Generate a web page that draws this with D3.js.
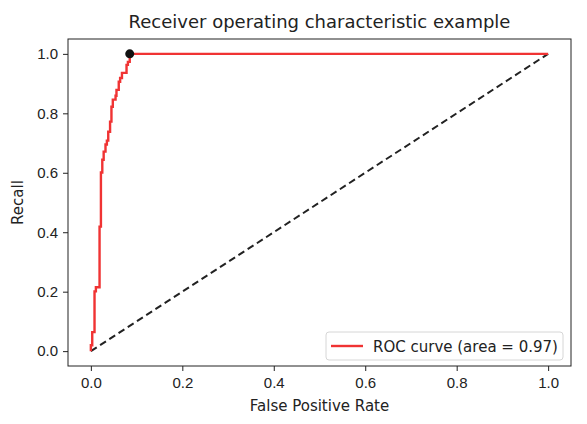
<!DOCTYPE html>
<html>
<head>
<meta charset="utf-8">
<script src="https://cdn.jsdelivr.net/npm/d3@7"></script>
<style>
  body { margin: 0; background: #fff; }
  svg { display: block; font-family: "DejaVu Sans", sans-serif; }
</style>
</head>
<body>
<svg id="chart" width="587" height="424"></svg>
<script>
// ROC curve points
const fpr = [0, 0, 0.003, 0.003, 0.008, 0.008, 0.011, 0.011, 0.019, 0.019, 0.022, 0.022,
  0.025, 0.025, 0.028, 0.028, 0.032, 0.032, 0.035, 0.035, 0.038, 0.038, 0.042, 0.042,
  0.045, 0.045, 0.048, 0.048, 0.054, 0.054, 0.056, 0.056, 0.061, 0.061, 0.064, 0.064,
  0.068, 0.068, 0.078, 0.078, 0.081, 0.081, 0.085, 0.085, 1];
const tpr = [0, 0.02, 0.02, 0.064, 0.064, 0.201, 0.201, 0.215, 0.215, 0.419, 0.419, 0.601,
  0.601, 0.644, 0.644, 0.671, 0.671, 0.695, 0.695, 0.708, 0.708, 0.738, 0.738, 0.772,
  0.772, 0.822, 0.822, 0.846, 0.846, 0.859, 0.859, 0.879, 0.879, 0.906, 0.906, 0.919,
  0.919, 0.936, 0.936, 0.963, 0.963, 0.973, 0.973, 1, 1];
const chance = [[0, 0], [1, 1]];
const bestPoint = [0.085, 1];
const ticks = [0, 0.2, 0.4, 0.6, 0.8, 1.0];
const rocArea = 0.97;

const svg = d3.select('#chart');
const margin = {top: 39, right: 16, bottom: 58, left: 68};
const W = 587, H = 424;

const x = d3.scaleLinear().domain([-0.05, 1.05]).range([margin.left, W - margin.right]);
const y = d3.scaleLinear().domain([-0.05, 1.05]).range([H - margin.bottom, margin.top]);

const ink = '#222';

// axes
const xAxis = svg.append('g')
  .attr('transform', `translate(0,${H - margin.bottom})`)
  .call(d3.axisBottom(x).tickValues(ticks).tickFormat(d3.format('.1f')).tickSize(5).tickPadding(6));
const yAxis = svg.append('g')
  .attr('transform', `translate(${margin.left},0)`)
  .call(d3.axisLeft(y).tickValues(ticks).tickFormat(d3.format('.1f')).tickSize(5).tickPadding(5));

[xAxis, yAxis].forEach(g => {
  g.select('.domain').remove();
  g.selectAll('line').attr('stroke', ink);
  g.selectAll('text').attr('fill', ink).style('font-size', '15px');
});

// frame
svg.append('rect')
  .attr('x', margin.left).attr('y', margin.top)
  .attr('width', W - margin.left - margin.right)
  .attr('height', H - margin.top - margin.bottom)
  .attr('fill', 'none').attr('stroke', ink).attr('stroke-width', 1);

const line = d3.line().x(d => x(d[0])).y(d => y(d[1]));

// chance diagonal
svg.append('path')
  .datum(chance)
  .attr('d', line)
  .attr('fill', 'none')
  .attr('stroke', '#222')
  .attr('stroke-width', 2)
  .attr('stroke-dasharray', '7,4');

// roc curve
const roc = fpr.map((f, i) => [f, tpr[i]]);
svg.append('path')
  .datum(roc)
  .attr('d', line)
  .attr('fill', 'none')
  .attr('stroke', '#f03333')
  .attr('stroke-width', 2.4)
  .attr('stroke-linejoin', 'miter');

// best threshold point
svg.append('circle')
  .attr('cx', x(bestPoint[0]))
  .attr('cy', y(bestPoint[1]))
  .attr('r', 4.5)
  .attr('fill', '#111');

// title + labels
svg.append('text')
  .attr('x', (margin.left + W - margin.right) / 2)
  .attr('y', 28)
  .attr('text-anchor', 'middle')
  .attr('fill', ink)
  .style('font-size', '18px')
  .text('Receiver operating characteristic example');

svg.append('text')
  .attr('x', (margin.left + W - margin.right) / 2)
  .attr('y', 411)
  .attr('text-anchor', 'middle')
  .attr('fill', ink)
  .style('font-size', '15px')
  .text('False Positive Rate');

svg.append('text')
  .attr('transform', `translate(23,${(margin.top + H - margin.bottom) / 2}) rotate(-90)`)
  .attr('text-anchor', 'middle')
  .attr('fill', ink)
  .style('font-size', '15px')
  .text('Recall');

// legend
const lg = svg.append('g').attr('transform', 'translate(326,332)');
lg.append('rect')
  .attr('width', 237).attr('height', 28).attr('rx', 3)
  .attr('fill', '#fff').attr('fill-opacity', 0.8)
  .attr('stroke', '#d6d6d6');
lg.append('line')
  .attr('x1', 5).attr('x2', 37).attr('y1', 14).attr('y2', 14)
  .attr('stroke', '#f03333').attr('stroke-width', 2.4);
lg.append('text')
  .attr('x', 47).attr('y', 19.5)
  .attr('fill', ink)
  .style('font-size', '15px')
  .text(`ROC curve (area = ${rocArea.toFixed(2)})`);
</script>
</body>
</html>
